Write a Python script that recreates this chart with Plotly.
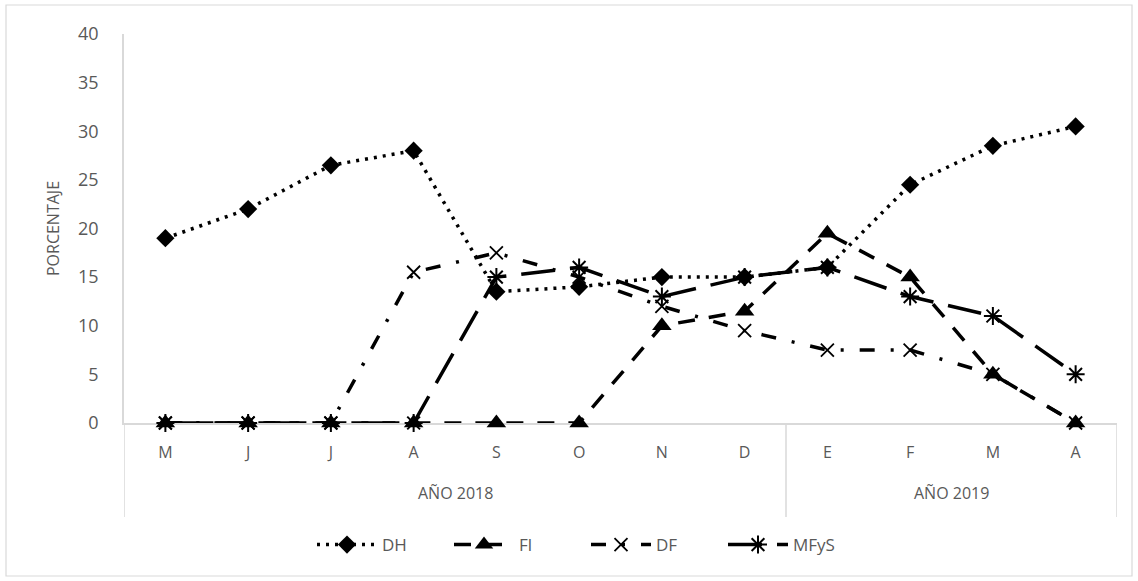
import plotly.graph_objects as go

# Monthly percentages, May 2018 - April 2019
months = ["M", "J", "J", "A", "S", "O", "N", "D", "E", "F", "M", "A"]
years = ["AÑO 2018", "AÑO 2019"]
year_spans = [(0, 7), (8, 11)]  # first/last month index of each year

dh = [19, 22, 26.5, 28, 13.5, 14, 15, 15, 16, 24.5, 28.5, 30.5]
fl = [0, 0, 0, 0, 0, 0, 10, 11.5, 19.5, 15, 5, 0]
df = [0, 0, 0, 15.5, 17.5, 15, 12, 9.5, 7.5, 7.5, 5, 0]
mfys = [0, 0, 0, 0, 15, 16, 13, 15, 16, 13, 11, 5]

y_ticks = [0, 5, 10, 15, 20, 25, 30, 35, 40]

x = list(range(len(months)))
ink = "#000000"
gray_text = "#595959"
gray_line = "#d9d9d9"
font_family = "Open Sans, sans-serif"

fig = go.Figure()

fig.add_trace(go.Scatter(
    x=x, y=dh, name="DH", mode="lines+markers", cliponaxis=False,
    line=dict(color=ink, width=3.5, dash="3px,6px"),
    marker=dict(symbol="diamond", size=14, color=ink),
))
fig.add_trace(go.Scatter(
    x=x, y=fl, name="Fl", mode="lines+markers", cliponaxis=False,
    line=dict(color=ink, width=3.5, dash="17px,14px"),
    marker=dict(symbol="triangle-up", size=17, color=ink),
))
fig.add_trace(go.Scatter(
    x=x, y=df, name="DF", mode="lines+markers", cliponaxis=False,
    line=dict(color=ink, width=3.5, dash="15px,16px,3px,16px"),
    marker=dict(symbol="x-thin-open", size=13, color=ink,
                line=dict(color=ink, width=1.8)),
))
fig.add_trace(go.Scatter(
    x=x, y=mfys, name="MFyS", mode="lines+markers", cliponaxis=False,
    line=dict(color=ink, width=3.5, dash="34px,15px"),
    marker=dict(symbol="asterisk-open", size=15, color=ink,
                line=dict(color=ink, width=2)),
))

# Year group labels and the vertical dividers between them
plot_h = 389.0
divider_bottom = -94 / plot_h
for (start, end), label in zip(year_spans, years):
    fig.add_annotation(
        x=(start + end) / 2, y=-70 / plot_h, xref="x", yref="paper",
        text=label, showarrow=False, yanchor="middle",
        font=dict(family=font_family, size=16, color=gray_text),
    )
edges = [year_spans[0][0] - 0.5] + [end + 0.5 for _, end in year_spans]
for e in edges:
    fig.add_shape(type="line", xref="x", yref="paper",
                  x0=e, x1=e, y0=0, y1=divider_bottom,
                  line=dict(color=gray_line, width=1.5))

# Chart-area border
fig.add_shape(type="rect", xref="paper", yref="paper",
              x0=(6 - 124) / 993, x1=(1132 - 124) / 993,
              y0=(423 - 576) / plot_h, y1=(423 - 5) / plot_h,
              line=dict(color=gray_line, width=1.2), layer="below")

fig.update_layout(
    width=1138, height=581,
    margin=dict(l=124, r=21, t=34, b=158),
    paper_bgcolor="white", plot_bgcolor="white",
    font=dict(family=font_family, color=gray_text),
    showlegend=True,
    legend=dict(
        orientation="h", x=(586 - 124) / 993, xanchor="center",
        y=(423 - 545) / plot_h, yanchor="middle",
        font=dict(family=font_family, size=17, color=gray_text),
        itemwidth=60, entrywidth=62, entrywidthmode="pixels",
    ),
    xaxis=dict(
        range=[-0.5, 11.5], tickmode="array", tickvals=x, ticktext=months,
        showgrid=False, zeroline=False, showline=True,
        linecolor=gray_line, linewidth=1.5, ticks="",
        ticklabelstandoff=14, layer="below traces",
        tickfont=dict(family=font_family, size=16, color=gray_text),
    ),
    yaxis=dict(
        range=[-0.0001, 40], tickmode="array", tickvals=y_ticks,
        showgrid=False, zeroline=False, showline=True,
        linecolor=gray_line, linewidth=1.5, ticks="",
        ticklabelstandoff=20, layer="below traces",
        tickfont=dict(family=font_family, size=18, color=gray_text),
        title=dict(text="PORCENTAJE", standoff=14,
                   font=dict(family=font_family, size=16, color=gray_text)),
    ),
)

fig.write_html("out.html")
